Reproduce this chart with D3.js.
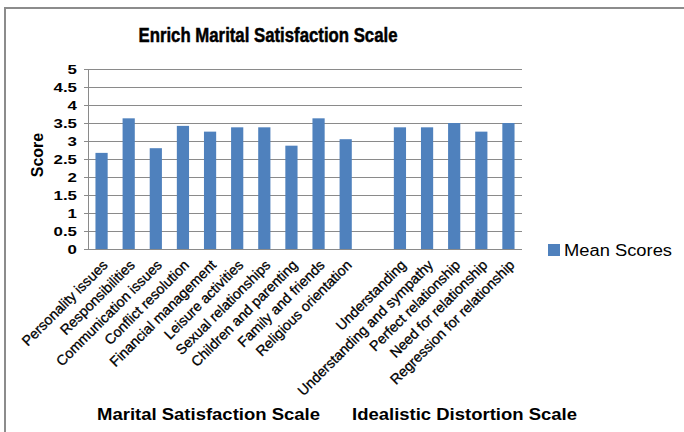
<!DOCTYPE html>
<html>
<head>
<meta charset="utf-8">
<script src="https://cdn.jsdelivr.net/npm/d3@7"></script>
<style>
  body { margin: 0; background: #fff; }
  text { font-family: "Liberation Sans", Arial, sans-serif; fill: #000; }
</style>
</head>
<body>
<div id="chart"></div>
<script>
// values
const categories = ["Personality issues", "Responsibilities", "Communication issues", "Conflict resolution",
    "Financial management", "Leisure activities", "Sexual relationships", "Children and parenting",
    "Family and friends", "Religious orientation", "",
    "Understanding", "Understanding and sympathy", "Perfect relationship", "Need for relationship",
    "Regression for relationship"];
const meanScores = [2.67, 3.63, 2.8, 3.42, 3.26, 3.38, 3.38, 2.87, 3.63, 3.05, null,
    3.38, 3.38, 3.5, 3.26, 3.5];
const yTicks = [0, 0.5, 1, 1.5, 2, 2.5, 3, 3.5, 4, 4.5, 5];
const groups = ["Marital Satisfaction Scale", "Idealistic Distortion Scale"];

var width = 684, height = 432;
var margin = { top: 69, right: 162, bottom: 183, left: 88 };

var svg = d3.select("#chart").append("svg")
    .attr("width", width)
    .attr("height", height);

// outer frame (only top and left visible)
svg.append("path")
    .attr("d", "M5," + height + "V8H" + width)
    .attr("fill", "none")
    .attr("stroke", "#8c8c8c")
    .attr("stroke-width", 2);

var x = d3.scaleBand()
    .domain(categories.map((d, i) => i))
    .range([margin.left, width - margin.right])
    .paddingInner(0.55)
    .paddingOuter(0.275);

var y = d3.scaleLinear()
    .domain([0, 5])
    .range([height - margin.bottom, margin.top]);

// gridlines
svg.append("g")
    .selectAll("line")
    .data(yTicks)
    .enter().append("line")
    .attr("x1", margin.left - 4)
    .attr("x2", width - margin.right)
    .attr("y1", d => Math.round(y(d)) + 0.5)
    .attr("y2", d => Math.round(y(d)) + 0.5)
    .attr("stroke", "#8a8a8a")
    .attr("stroke-width", 1);

// y axis line
svg.append("line")
    .attr("x1", margin.left + 0.5).attr("x2", margin.left + 0.5)
    .attr("y1", y(5)).attr("y2", y(0))
    .attr("stroke", "#8a8a8a");

// y tick labels (the picture is stretched sideways)
svg.append("g")
    .selectAll("text")
    .data(yTicks)
    .enter().append("text")
    .attr("transform", d => "translate(77," + (y(d) + 5) + ") scale(1.25,1)")
    .attr("text-anchor", "end")
    .style("font-size", "13.5px")
    .style("font-weight", "bold")
    .text(d => d);

// bars
svg.append("g")
    .selectAll("rect")
    .data(meanScores.map((v, i) => ({ i: i, v: v })).filter(d => d.v !== null))
    .enter().append("rect")
    .attr("x", d => x(d.i))
    .attr("width", x.bandwidth())
    .attr("y", d => y(d.v))
    .attr("height", d => y(0) - y(d.v))
    .attr("fill", "#4f81bd");

// category labels
svg.append("g")
    .selectAll("text")
    .data(categories.map((c, i) => ({ c: c, i: i })).filter(d => d.c !== ""))
    .enter().append("text")
    .attr("transform", d => "translate(" + (x(d.i) + x.bandwidth() / 2 + 7) + "," + (y(0) + 17) + ") rotate(-45)")
    .attr("text-anchor", "end")
    .style("font-size", "14.2px")
    .style("stroke", "#000")
    .style("stroke-width", "0.3px")
    .text(d => d.c);

// title
svg.append("text")
    .attr("x", 268)
    .attr("y", 42)
    .attr("text-anchor", "middle")
    .attr("textLength", 259)
    .attr("lengthAdjust", "spacingAndGlyphs")
    .style("font-size", "20px")
    .style("font-weight", "bold")
    .style("stroke", "#000")
    .style("stroke-width", "0.5px")
    .text("Enrich Marital Satisfaction Scale");

// y axis title
svg.append("text")
    .attr("transform", "translate(43,155) rotate(-90)")
    .attr("text-anchor", "middle")
    .style("font-size", "16px")
    .style("font-weight", "bold")
    .text("Score");

// group titles
var groupBox = [[97, 320], [352, 577]];
svg.append("g")
    .selectAll("text")
    .data(groups)
    .enter().append("text")
    .attr("x", (d, i) => groupBox[i][0])
    .attr("y", 420)
    .attr("textLength", (d, i) => groupBox[i][1] - groupBox[i][0])
    .attr("lengthAdjust", "spacingAndGlyphs")
    .style("font-size", "16.5px")
    .style("font-weight", "bold")
    .text(d => d);

// legend
var legend = svg.append("g").attr("transform", "translate(548,244)");
legend.append("rect")
    .attr("width", 12).attr("height", 12)
    .attr("fill", "#4f81bd");
legend.append("text")
    .attr("x", 16).attr("y", 12)
    .attr("textLength", 108)
    .attr("lengthAdjust", "spacingAndGlyphs")
    .style("font-size", "16px")
    .text("Mean Scores");
</script>
</body>
</html>
